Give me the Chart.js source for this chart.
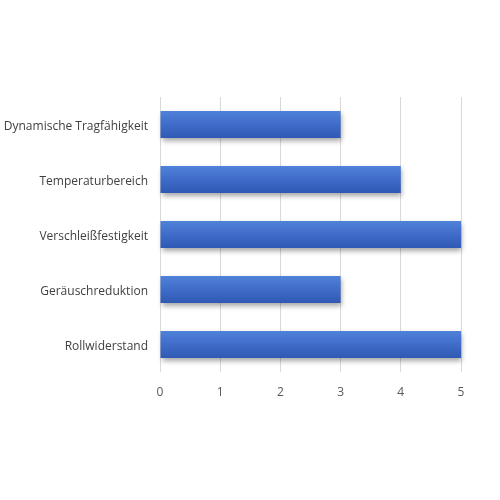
<!DOCTYPE html>
<html>
<head>
<meta charset="utf-8">
<script src="https://cdn.jsdelivr.net/npm/chart.js@4/dist/chart.umd.min.js"></script>
<style>
html,body{margin:0;padding:0;background:#fff;}
#wrap{width:500px;height:500px;}
</style>
</head>
<body>
<div id="wrap"><canvas id="c" width="500" height="500"></canvas></div>
<script>
const categories = ["Dynamische Tragfähigkeit", "Temperaturbereich", "Verschleißfestigkeit", "Geräuschreduktion", "Rollwiderstand"];
const values = [3, 4, 5, 3, 5];
const xTicks = [0, 1, 2, 3, 4, 5];

const shadowPlugin = {
  id: 'shadow',
  beforeDatasetsDraw(chart) {
    const ctx = chart.ctx;
    ctx.save();
    ctx.shadowColor = 'rgba(0,0,0,0.35)';
    ctx.shadowBlur = 5;
    ctx.shadowOffsetX = 1;
    ctx.shadowOffsetY = 3;
  },
  afterDatasetsDraw(chart) {
    chart.ctx.restore();
  }
};

function barGradient(context) {
  const chart = context.chart;
  const ys = chart.scales && chart.scales.y;
  if (!ys || typeof context.dataIndex !== 'number') return '#3f6bc9';
  const c = ys.getPixelForValue(context.dataIndex);
  if (!isFinite(c)) return '#3f6bc9';
  const h = 27;
  const top = c - h / 2;
  const g = chart.ctx.createLinearGradient(0, top, 0, top + h);
  g.addColorStop(0, '#5082d9');
  g.addColorStop(0.45, '#416ecb');
  g.addColorStop(1, '#2f59b2');
  return g;
}

new Chart(document.getElementById('c'), {
  type: 'bar',
  data: {
    labels: categories,
    datasets: [{
      data: values,
      backgroundColor: barGradient,
      borderWidth: 0,
      barPercentage: 0.98,
      categoryPercentage: 0.5,
      clip: false
    }]
  },
  plugins: [shadowPlugin],
  options: {
    indexAxis: 'y',
    responsive: false,
    animation: false,
    devicePixelRatio: 1,
    layout: { padding: { left: 0, right: 39, top: 97, bottom: 98 } },
    plugins: { legend: { display: false }, tooltip: { enabled: false } },
    scales: {
      x: {
        min: 0, max: 5,
        afterBuildTicks(axis) { axis.ticks = xTicks.map(v => ({ value: v })); },
        afterFit(axis) { axis.height = 30; },
        grid: { color: '#d9d9d9', lineWidth: 1, drawTicks: false },
        border: { display: false },
        ticks: { color: '#595959', font: { family: 'Open Sans', size: 12 }, padding: 13 }
      },
      y: {
        afterFit(axis) { axis.width = 160; },
        grid: { display: false, drawTicks: false },
        border: { display: false },
        ticks: { color: '#404040', font: { family: 'Open Sans', size: 12 }, padding: 12, labelOffset: 2 }
      }
    }
  }
});
</script>
</body>
</html>
